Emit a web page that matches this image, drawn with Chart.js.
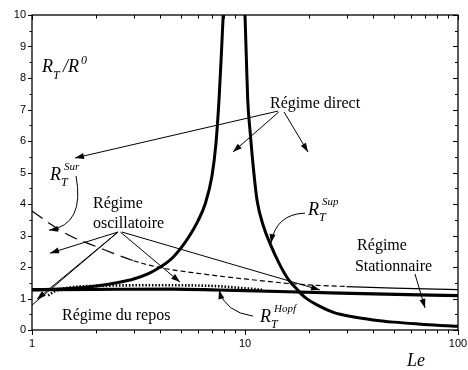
<!DOCTYPE html>
<html>
<head>
<meta charset="UTF-8">
<script src="https://cdn.jsdelivr.net/npm/chart.js@4/dist/chart.umd.min.js"></script>
<style>body{margin:0;background:#fff}</style>
</head>
<body>
<canvas id="c" width="468" height="370"></canvas>
<script>
// R_T / R^0 against the Lewis number, log axis 1..100

var xMajor = [1, 10, 100];
var yMajor = [0, 1, 2, 3, 4, 5, 6, 7, 8, 9, 10];

// R_T^Sup, left branch (goes to infinity near Le ~ 8)
var supLeftLe = [1, 1.5, 2, 2.5, 3, 3.5, 4, 4.5, 5, 5.5, 6, 6.5, 7, 7.3, 7.55, 7.75, 7.9, 8.05];
var supLeftR  = [1.27, 1.32, 1.40, 1.50, 1.62, 1.78, 2.0, 2.25, 2.6, 3.0, 3.45, 4.0, 4.9, 5.9, 7.3, 8.8, 10, 11.5];

// R_T^Sup, right branch
var supRightLe = [9.85, 10, 10.15, 10.3, 10.6, 11, 11.4, 12.2, 13.1, 14.5, 16, 17.5, 19, 22, 26, 32, 40, 50, 65, 80, 100];
var supRightR  = [11.5, 10, 8.6, 7.3, 6.2, 5.0, 4.1, 3.3, 2.75, 2.1, 1.6, 1.3, 1.05, 0.78, 0.56, 0.42, 0.32, 0.25, 0.19, 0.15, 0.12];

// R_T^Sur
var surLe = [1, 1.2, 1.5, 2, 3, 4, 6, 10, 18, 30, 50, 100];
var surR  = [3.78, 3.4, 3.0, 2.65, 2.2, 1.98, 1.8, 1.62, 1.45, 1.38, 1.33, 1.28];

// R_T^Hopf
var hopfLe = [1, 2, 4.6, 7.5, 10, 28, 100];
var hopfR  = [1.28, 1.29, 1.30, 1.27, 1.25, 1.17, 1.09];

// dotted branch near the Hopf line
var dotLe = [1.19, 1.3, 1.5, 2, 4, 7, 9, 12];
var dotR  = [1.1, 1.25, 1.35, 1.4, 1.42, 1.40, 1.35, 1.28];

function pts(xs, ys) {
  return xs.map(function (x, i) { return {x: x, y: ys[i]}; });
}

// annotations, in data units (Le, R_T/R0)
var texts = [
  {t: 'Régime direct', at: [13.1, 7.05]},
  {t: 'Régime', at: [1.934, 3.87]},
  {t: 'oscillatoire', at: [1.934, 3.24]},
  {t: 'Régime du repos', at: [1.383, 0.32]},
  {t: 'Régime', at: [33.6, 2.54]},
  {t: 'Stationnaire', at: [32.8, 1.87]}
];
var rLabels = [
  {sup: 'Sur', at: [1.215, 4.76]},
  {sup: 'Sup', at: [19.76, 3.65]},
  {sup: 'Hopf', at: [11.76, 0.25]}
];
var arrows = [
  {from: [14.29, 6.95], to: [1.592, 5.46]},
  {from: [14.4, 6.92], to: [8.78, 5.65]},
  {from: [15.25, 6.92], to: [19.76, 5.65]},
  {from: [2.533, 3.11], to: [1.215, 2.44]},
  {from: [2.533, 3.11], to: [1.055, 0.98]},
  {from: [2.533, 3.11], to: [1, 0.79], noHead: true},
  {from: [2.6, 3.11], to: [4.953, 1.52]},
  {from: [2.645, 3.11], to: [22.5, 1.27]},
  {from: [62.8, 1.78], to: [70, 0.70]},
  {from: [1.61, 4.89], ctrl: [1.774, 3.33], to: [1.202, 3.17]},
  {from: [19.12, 3.71], ctrl: [13.98, 3.68], to: [13.25, 2.76]},
  {from: [10.9, 0.44], ctrl: [8.06, 0.57], to: [7.55, 1.27]}
];

var SERIF = '"Liberation Serif", "Times New Roman", serif';
var SANS = '"Liberation Sans", Arial, sans-serif';

function head(ctx, x0, y0, x1, y1) {
  var ang = Math.atan2(y1 - y0, x1 - x0), L = 9, W = 3;
  ctx.beginPath();
  ctx.moveTo(x1, y1);
  ctx.lineTo(x1 - L * Math.cos(ang) + W * Math.sin(ang), y1 - L * Math.sin(ang) - W * Math.cos(ang));
  ctx.lineTo(x1 - L * Math.cos(ang) - W * Math.sin(ang), y1 - L * Math.sin(ang) + W * Math.cos(ang));
  ctx.closePath();
  ctx.fill();
}

function drawR(ctx, x, y, sup, supSize) {
  ctx.font = 'italic 18px ' + SERIF;
  ctx.fillText('R', x, y);
  var w = ctx.measureText('R').width;
  ctx.font = 'italic 12px ' + SERIF;
  ctx.fillText('T', x + w, y + 6);
  ctx.font = 'italic ' + (supSize || 12) + 'px ' + SERIF;
  ctx.fillText(sup, x + w + 3, y - 10);
}

var decor = {
  id: 'decor',
  afterDatasetsDraw: function (chart) {
    var ctx = chart.ctx, a = chart.chartArea, xs = chart.scales.x, ys = chart.scales.y;
    var X = function (v) { return xs.getPixelForValue(v); };
    var Y = function (v) { return ys.getPixelForValue(v); };
    ctx.save();
    ctx.strokeStyle = '#000';
    ctx.fillStyle = '#000';

    // frame
    ctx.lineWidth = 1.3;
    ctx.strokeRect(a.left, a.top, a.right - a.left, a.bottom - a.top);

    // ticks
    ctx.lineWidth = 1;
    ctx.beginPath();
    for (var v = 0; v <= 10; v += 0.5) {
      var py = Math.round(Y(v)) + 0.5, maj = v % 1 === 0;
      ctx.moveTo(a.left, py); ctx.lineTo(a.left - (maj ? 4 : 2.5), py);
      ctx.moveTo(a.right, py); ctx.lineTo(a.right - (maj ? 5 : 3), py);
    }
    [1, 10].forEach(function (d) {
      for (var m = 1; m <= 10; m++) {
        var px = Math.round(X(d * m)) + 0.5, maj = (m === 1 || m === 10);
        ctx.moveTo(px, a.bottom); ctx.lineTo(px, a.bottom + (maj ? 5 : 3.5));
        ctx.moveTo(px, a.top); ctx.lineTo(px, a.top + (maj ? 5 : 3.5));
      }
    });
    ctx.stroke();

    // tick labels
    ctx.font = '11px ' + SANS;
    ctx.textAlign = 'right';
    ctx.textBaseline = 'middle';
    yMajor.forEach(function (v) { ctx.fillText(String(v), a.left - 6, Y(v)); });
    ctx.textAlign = 'center';
    ctx.textBaseline = 'top';
    xMajor.forEach(function (v) { ctx.fillText(String(v), X(v), a.bottom + 8); });

    // texts
    ctx.textAlign = 'left';
    ctx.textBaseline = 'alphabetic';
    ctx.font = '16px ' + SERIF;
    texts.forEach(function (t) { ctx.fillText(t.t, X(t.at[0]), Y(t.at[1])); });

    rLabels.forEach(function (r) { drawR(ctx, X(r.at[0]), Y(r.at[1]), r.sup, 11); });

    // axis titles
    var tx = X(1.114), ty = Y(8.19);
    ctx.font = 'italic 18px ' + SERIF;
    ctx.fillText('R', tx, ty);
    var w = ctx.measureText('R').width;
    ctx.font = 'italic 12px ' + SERIF;
    ctx.fillText('T', tx + w, ty + 7);
    ctx.font = 'italic 18px ' + SERIF;
    ctx.fillText('/R', tx + w + 10, ty);
    var w2 = ctx.measureText('/R').width;
    ctx.font = 'italic 12px ' + SERIF;
    ctx.fillText('0', tx + w + 12 + w2, ty - 8);
    ctx.font = 'italic 18px ' + SERIF;
    ctx.fillText('Le', X(57.6), Y(-1.14));

    // arrows
    ctx.lineWidth = 1;
    arrows.forEach(function (r) {
      var x0 = X(r.from[0]), y0 = Y(r.from[1]), x1 = X(r.to[0]), y1 = Y(r.to[1]);
      ctx.beginPath();
      ctx.moveTo(x0, y0);
      if (r.ctrl) {
        var cx = X(r.ctrl[0]), cy = Y(r.ctrl[1]);
        ctx.quadraticCurveTo(cx, cy, x1, y1);
        ctx.stroke();
        head(ctx, cx, cy, x1, y1);
      } else {
        ctx.lineTo(x1, y1);
        ctx.stroke();
        if (!r.noHead) head(ctx, x0, y0, x1, y1);
      }
    });
    ctx.restore();
  }
};

var base = {pointRadius: 0, borderColor: '#000', fill: false, cubicInterpolationMode: 'monotone', clip: 0};

new Chart(document.getElementById('c'), {
  type: 'line',
  data: {
    datasets: [
      Object.assign({data: pts(supLeftLe, supLeftR), borderWidth: 3}, base),
      Object.assign({data: pts(supRightLe, supRightR), borderWidth: 3}, base),
      Object.assign({data: pts(hopfLe, hopfR), borderWidth: 3.2}, base),
      Object.assign({data: pts(dotLe, dotR), borderWidth: 2.6, borderDash: [1.5, 1.8]}, base),
      Object.assign({
        data: pts(surLe, surR), borderWidth: 1.2,
        segment: {
          borderDash: function (c) {
            var le = c.p0.parsed.x;
            return le < 3 ? [13, 7] : (le < 20 ? [5, 3] : []);
          }
        }
      }, base)
    ]
  },
  options: {
    responsive: false,
    animation: false,
    events: [],
    layout: {padding: {left: 32, right: 10, top: 15, bottom: 40}},
    scales: {
      x: {type: 'logarithmic', min: 1, max: 100, display: false},
      y: {type: 'linear', min: 0, max: 10, display: false}
    },
    plugins: {legend: {display: false}, tooltip: {enabled: false}}
  },
  plugins: [decor]
});
</script>
</body>
</html>
